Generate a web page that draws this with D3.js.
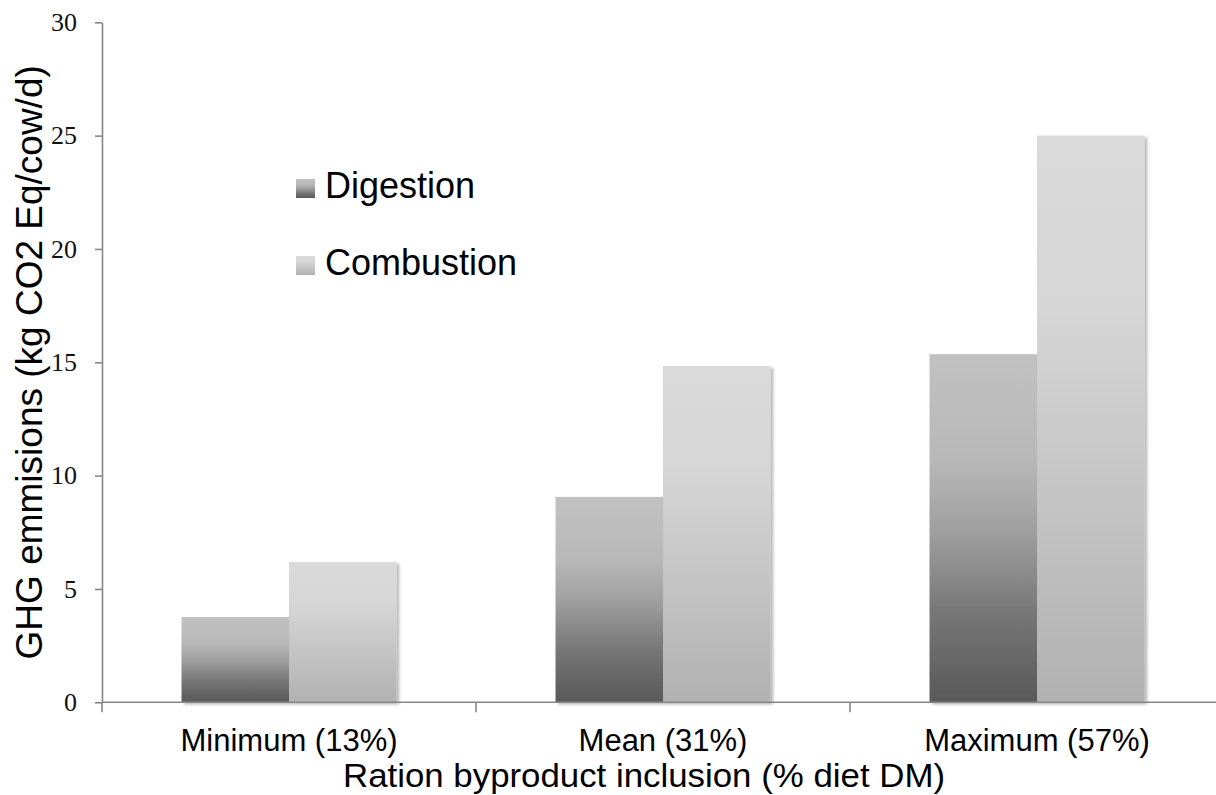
<!DOCTYPE html>
<html>
<head>
<meta charset="utf-8">
<script src="https://cdn.jsdelivr.net/npm/d3@7"></script>
<style>
  html, body { margin: 0; padding: 0; background: #fff; }
  svg { display: block; }
</style>
</head>
<body>
<svg id="chart" width="1216" height="795"></svg>
<script>
// Ration byproduct inclusion levels
const categories = ["Minimum (13%)", "Mean (31%)", "Maximum (57%)"];
const seriesNames = ["Digestion", "Combustion"];
// GHG emissions, kg CO2 Eq/cow/d
const digestion = [3.76, 9.06, 15.36];
const combustion = [6.19, 14.84, 25.0];
const yTicks = [0, 5, 10, 15, 20, 25, 30];
const yTitle = "GHG emmisions (kg CO2 Eq/cow/d)";
const xTitle = "Ration byproduct inclusion (% diet DM)";

const seriesValues = { Digestion: digestion, Combustion: combustion };

const W = 1216, H = 795;
const plot = { left: 102, right: 1224, top: 22.3, bottom: 702.3 };
const axisColor = "#878787";
const sansFont = "Arial, 'Liberation Sans', sans-serif";

const svg = d3.select("#chart");
svg.append("rect").attr("width", W).attr("height", H).attr("fill", "#fff");

const defs = svg.append("defs");

// vertical gradients, light at the top and dark at the base
const gradStops = {
  Digestion: [[0, "#c1c1c1"], [0.3, "#b8b8b8"], [0.5, "#a0a0a0"], [0.75, "#767676"], [1, "#595959"]],
  Combustion: [[0, "#dadada"], [0.3, "#d6d6d6"], [1, "#b1b1b1"]]
};
seriesNames.forEach(s => {
  const g = defs.append("linearGradient")
    .attr("id", "grad-" + s)
    .attr("x1", 0).attr("y1", 0).attr("x2", 0).attr("y2", 1);
  gradStops[s].forEach(([o, c]) => g.append("stop").attr("offset", o).attr("stop-color", c));
});

const shadow = defs.append("filter").attr("id", "barShadow")
  .attr("x", "-10%").attr("y", "-10%").attr("width", "130%").attr("height", "120%");
shadow.append("feDropShadow")
  .attr("dx", 2.5).attr("dy", 2).attr("stdDeviation", 1.6)
  .attr("flood-color", "#000").attr("flood-opacity", 0.3);

// scales
const x = d3.scaleBand().domain(categories).range([plot.left, plot.right]).padding(0);
const x1 = d3.scaleBand().domain(seriesNames).range([0, x.bandwidth()])
  .paddingInner(0).paddingOuter(0.74);
const y = d3.scaleLinear().domain([0, 30]).range([plot.bottom, plot.top]);

// bars
const groups = svg.append("g").selectAll("g")
  .data(categories)
  .join("g")
  .attr("transform", d => `translate(${x(d)},0)`);

groups.selectAll("rect")
  .data((c, i) => seriesNames.map(s => ({ s, v: seriesValues[s][i] })))
  .join("rect")
  .attr("x", d => x1(d.s))
  .attr("y", d => y(d.v))
  .attr("width", x1.bandwidth())
  .attr("height", d => y(0) - y(d.v))
  .attr("fill", d => `url(#grad-${d.s})`)
  .attr("filter", "url(#barShadow)");

// y axis
const yAxis = svg.append("g")
  .attr("transform", `translate(${plot.left},0)`)
  .call(d3.axisLeft(y).tickValues(yTicks).tickSize(7).tickSizeOuter(0).tickPadding(18));
yAxis.select(".domain").attr("stroke", axisColor).attr("stroke-width", 1.6);
yAxis.selectAll(".tick line").attr("stroke", axisColor).attr("stroke-width", 1.6);
yAxis.selectAll(".tick text")
  .attr("font-family", "'Liberation Serif', 'DejaVu Serif', serif")
  .attr("font-size", 26)
  .attr("fill", "#111");

// x axis line and category boundary ticks
const xAxis = svg.append("g");
xAxis.append("line")
  .attr("x1", plot.left).attr("x2", plot.right)
  .attr("y1", y(0)).attr("y2", y(0))
  .attr("stroke", axisColor).attr("stroke-width", 1.6);
const edges = categories.map(c => x(c)).concat([x.range()[1]]);
xAxis.selectAll("line.edge")
  .data(edges)
  .join("line")
  .attr("class", "edge")
  .attr("x1", d => d).attr("x2", d => d)
  .attr("y1", y(0)).attr("y2", y(0) + 10)
  .attr("stroke", axisColor).attr("stroke-width", 1.6);

// category labels
xAxis.selectAll("text.cat")
  .data(categories)
  .join("text")
  .attr("class", "cat")
  .attr("x", d => x(d) + x.bandwidth() / 2)
  .attr("y", 751)
  .attr("text-anchor", "middle")
  .attr("font-family", sansFont)
  .attr("font-size", 31)
  .attr("fill", "#000")
  .text(d => d);

// axis titles
svg.append("text")
  .attr("x", 343).attr("y", 787)
  .attr("text-anchor", "start")
  .attr("font-family", sansFont)
  .attr("font-size", 33)
  .attr("textLength", 602)
  .attr("lengthAdjust", "spacingAndGlyphs")
  .attr("fill", "#000")
  .text(xTitle);

svg.append("text")
  .attr("transform", `translate(42,${(plot.top + plot.bottom) / 2}) rotate(-90)`)
  .attr("text-anchor", "middle")
  .attr("font-family", sansFont)
  .attr("font-size", 37)
  .attr("fill", "#000")
  .text(yTitle);

// legend
const legend = svg.append("g").attr("transform", "translate(296,179)");
const legendItems = legend.selectAll("g")
  .data(seriesNames)
  .join("g")
  .attr("transform", (d, i) => `translate(0,${i * 77})`);
legendItems.append("rect")
  .attr("width", 19).attr("height", 19)
  .attr("fill", d => `url(#grad-${d})`);
legendItems.append("text")
  .attr("x", 29).attr("y", 19)
  .attr("font-family", sansFont)
  .attr("font-size", 36)
  .attr("fill", "#000")
  .text(d => d);
</script>
</body>
</html>
